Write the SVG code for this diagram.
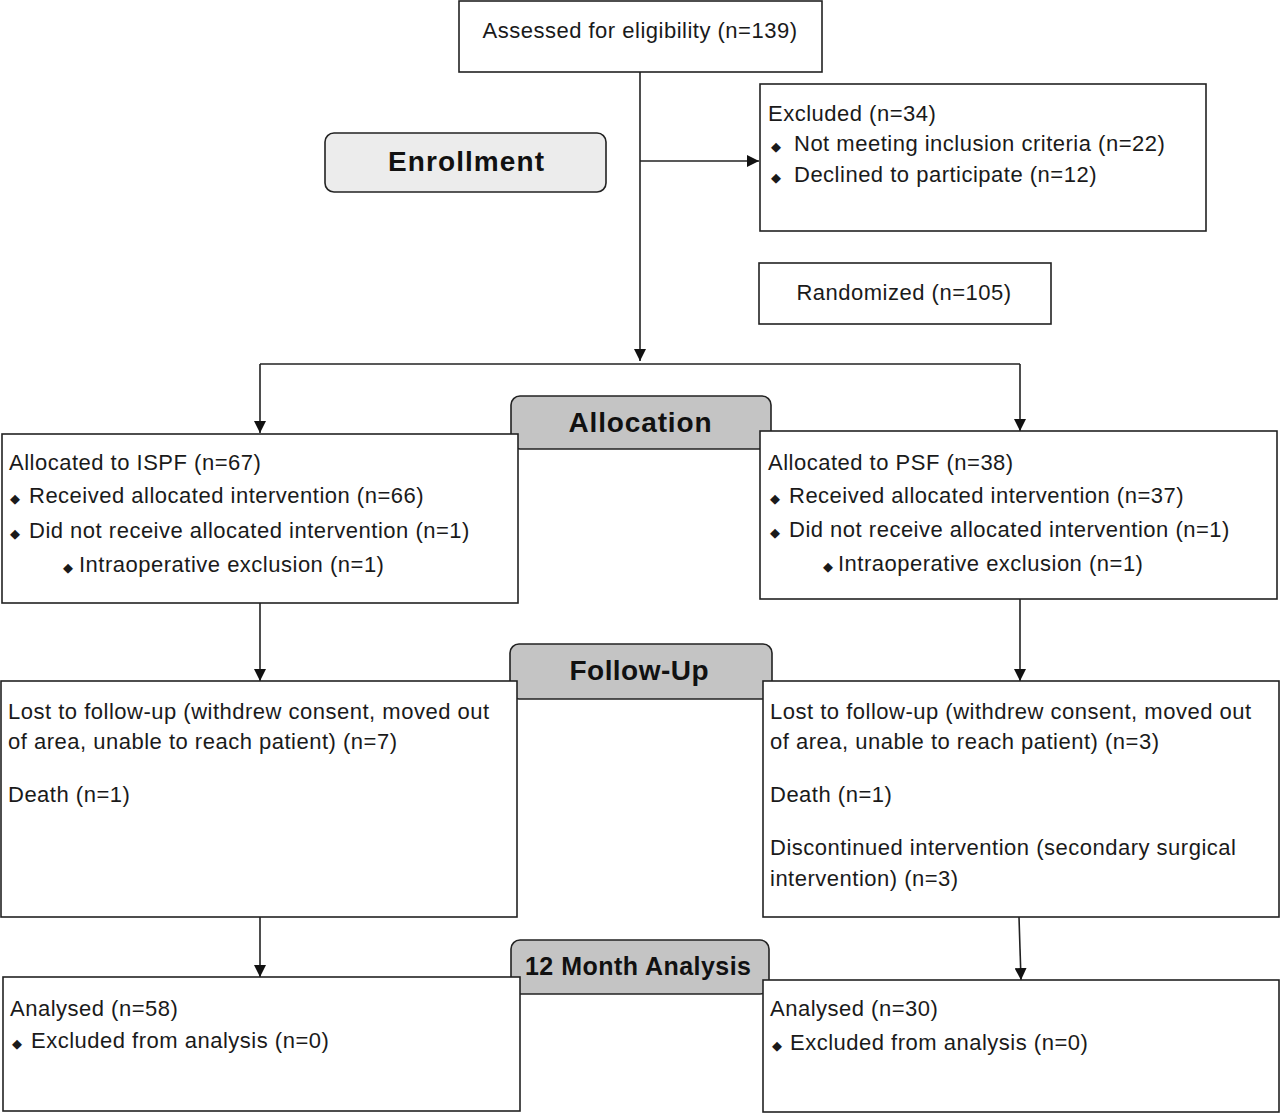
<svg xmlns="http://www.w3.org/2000/svg" width="1280" height="1114" viewBox="0 0 1280 1114">
<defs>
<style>
.box{fill:#fff;stroke:#222;stroke-width:1.6}
.stage{stroke:#222;stroke-width:1.6}
.t{font-family:"Liberation Sans",Arial,sans-serif;font-size:22px;letter-spacing:0.5px;fill:#1a1a1a}
.b{font-size:13px;letter-spacing:0}
.h{font-family:"Liberation Sans",Arial,sans-serif;font-weight:bold;fill:#111;text-anchor:middle}
.ln{stroke:#222;stroke-width:1.6;fill:none}
</style>
<marker id="ah2" viewBox="0 0 10 10" refX="10" refY="5" markerWidth="12" markerHeight="12" markerUnits="userSpaceOnUse" orient="auto"><path d="M0,0 L10,5 L0,10 z" fill="#111"/></marker>
</defs>
<rect width="1280" height="1114" fill="#fff"/>

<g id="connectors">
<path class="ln" d="M640,72 V361" marker-end="url(#ah2)"/>
<path class="ln" d="M640,161 H759" marker-end="url(#ah2)"/>
<path class="ln" d="M260,364 H1020"/>
<path class="ln" d="M260,364 V433" marker-end="url(#ah2)"/>
<path class="ln" d="M1020,364 V431" marker-end="url(#ah2)"/>
<path class="ln" d="M260,603 V681" marker-end="url(#ah2)"/>
<path class="ln" d="M1020,599 V681" marker-end="url(#ah2)"/>
<path class="ln" d="M260,917 V977" marker-end="url(#ah2)"/>
<path class="ln" d="M1019,917 L1021,980" marker-end="url(#ah2)"/>
</g>

<g id="assessed">
<rect class="box" x="459" y="1" width="363" height="71"/>
<text class="t" x="640" y="38" text-anchor="middle">Assessed for eligibility (n=139)</text>
</g>

<g id="enrollment">
<rect class="stage" x="325" y="133" width="281" height="59" rx="9" fill="#ececec"/>
<text class="h" x="466" y="171" font-size="28" textLength="156">Enrollment</text>
</g>

<g id="excluded">
<rect class="box" x="760" y="84" width="446" height="147"/>
<text class="t" x="768" y="121">Excluded (n=34)</text>
<text class="t" x="771" y="151"><tspan class="b">◆</tspan><tspan x="794">Not meeting inclusion criteria (n=22)</tspan></text>
<text class="t" x="771" y="182"><tspan class="b">◆</tspan><tspan x="794">Declined to participate (n=12)</tspan></text>
</g>

<g id="randomized">
<rect class="box" x="759" y="263" width="292" height="61"/>
<text class="t" x="904" y="300" text-anchor="middle">Randomized (n=105)</text>
</g>

<g id="allocation">
<rect class="stage" x="511" y="396" width="260" height="53" rx="9" fill="#c4c4c4"/>
<text class="h" x="640" y="432" font-size="28" textLength="143">Allocation</text>
</g>

<g id="alloc-ispf">
<rect class="box" x="2" y="434" width="516" height="169"/>
<text class="t" x="9" y="470">Allocated to ISPF (n=67)</text>
<text class="t" x="10" y="503"><tspan class="b">◆</tspan><tspan x="29">Received allocated intervention (n=66)</tspan></text>
<text class="t" x="10" y="538"><tspan class="b">◆</tspan><tspan x="29">Did not receive allocated intervention (n=1)</tspan></text>
<text class="t" x="63" y="572"><tspan class="b">◆</tspan><tspan x="79">Intraoperative exclusion (n=1)</tspan></text>
</g>

<g id="alloc-psf">
<rect class="box" x="760" y="431" width="517" height="168"/>
<text class="t" x="768" y="470">Allocated to PSF (n=38)</text>
<text class="t" x="770" y="503"><tspan class="b">◆</tspan><tspan x="789">Received allocated intervention (n=37)</tspan></text>
<text class="t" x="770" y="537"><tspan class="b">◆</tspan><tspan x="789">Did not receive allocated intervention (n=1)</tspan></text>
<text class="t" x="823" y="571"><tspan class="b">◆</tspan><tspan x="838">Intraoperative exclusion (n=1)</tspan></text>
</g>

<g id="followup">
<rect class="stage" x="510" y="644" width="262" height="55" rx="9" fill="#c4c4c4"/>
<text class="h" x="639" y="680" font-size="28" textLength="139">Follow-Up</text>
</g>

<g id="follow-ispf">
<rect class="box" x="1" y="681" width="516" height="236"/>
<text class="t" x="8" y="719">Lost to follow-up (withdrew consent, moved out</text>
<text class="t" x="8" y="749">of area, unable to reach patient) (n=7)</text>
<text class="t" x="8" y="802">Death (n=1)</text>
</g>

<g id="follow-psf">
<rect class="box" x="763" y="681" width="516" height="236"/>
<text class="t" x="770" y="719">Lost to follow-up (withdrew consent, moved out</text>
<text class="t" x="770" y="749">of area, unable to reach patient) (n=3)</text>
<text class="t" x="770" y="802">Death (n=1)</text>
<text class="t" x="770" y="855">Discontinued intervention (secondary surgical</text>
<text class="t" x="770" y="886">intervention) (n=3)</text>
</g>

<g id="analysis">
<rect class="stage" x="511" y="940" width="258" height="54" rx="9" fill="#c4c4c4"/>
<text class="h" x="638" y="975" font-size="25" textLength="226">12 Month Analysis</text>
</g>

<g id="analysis-ispf">
<rect class="box" x="3" y="977" width="517" height="134"/>
<text class="t" x="10" y="1016">Analysed (n=58)</text>
<text class="t" x="12" y="1048"><tspan class="b">◆</tspan><tspan x="31">Excluded from analysis (n=0)</tspan></text>
</g>

<g id="analysis-psf">
<rect class="box" x="763" y="980" width="516" height="132"/>
<text class="t" x="770" y="1016">Analysed (n=30)</text>
<text class="t" x="772" y="1050"><tspan class="b">◆</tspan><tspan x="790">Excluded from analysis (n=0)</tspan></text>
</g>
</svg>
